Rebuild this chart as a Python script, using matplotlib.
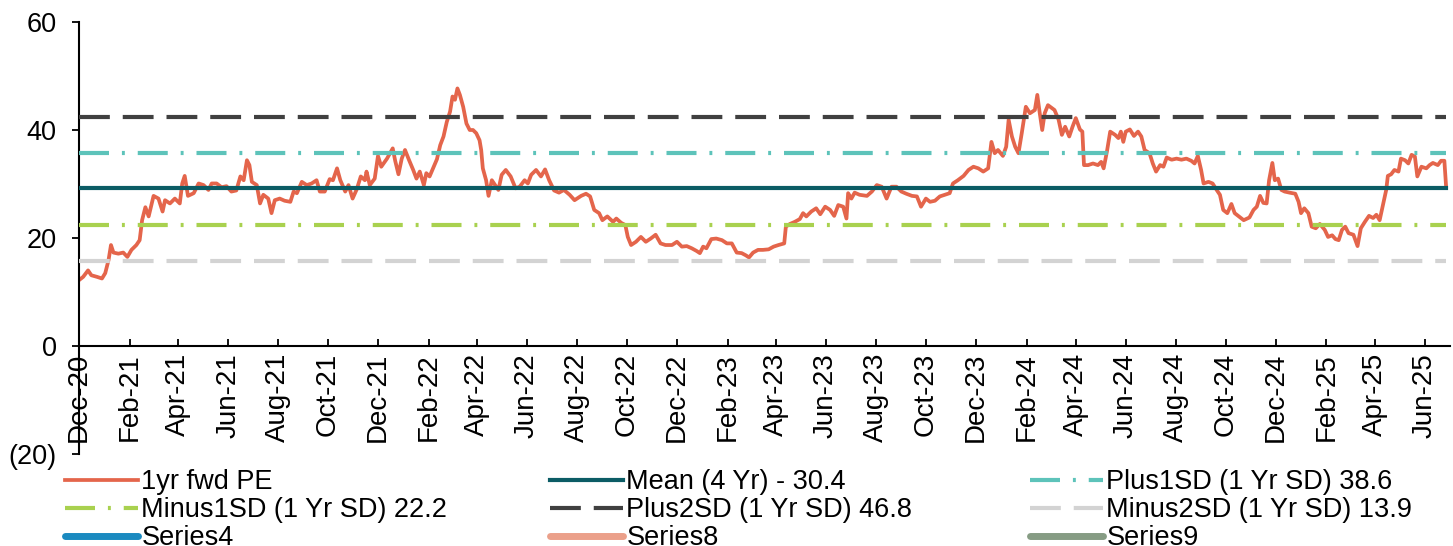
import matplotlib
matplotlib.use('Agg')
import matplotlib.pyplot as plt
import matplotlib.dates as mdates
from matplotlib.lines import Line2D
import pandas as pd

# 1yr forward PE (days counted from start_date)
start_date = '2020-12-03'
pe_days = [
    0, 5, 11, 15, 22, 28, 32, 36, 39, 42, 48, 54, 59, 64, 70, 74, 77, 81, 85, 91,
    97, 102, 105, 111, 117, 123, 126, 129, 133, 140, 146, 152, 158, 162, 168, 174, 180, 186, 192, 197,
    201, 205, 208, 211, 217, 221, 225, 231, 235, 239, 245, 251, 258, 262, 266, 272, 278, 284, 290, 294,
    300, 306, 310, 315, 319, 325, 329, 334, 339, 344, 349, 351, 355, 361, 365, 369, 376, 383, 386, 390,
    394, 398, 403, 408, 412, 416, 421, 424, 428, 433, 437, 441, 445, 449, 453, 456, 459, 462, 465, 469,
    473, 477, 481, 485, 489, 491, 493, 497, 500, 504, 508, 512, 516, 521, 527, 533, 538, 544, 548, 552,
    558, 564, 569, 574, 580, 586, 592, 599, 605, 613, 619, 624, 629, 635, 639, 645, 652, 656, 662, 667,
    670, 674, 680, 686, 692, 698, 704, 710, 716, 724, 730, 736, 742, 748, 754, 758, 762, 766, 772, 778,
    785, 791, 797, 803, 809, 814, 818, 823, 829, 835, 842, 848, 854, 861, 863, 868, 874, 880, 884, 888,
    894, 900, 905, 911, 917, 922, 927, 933, 937, 939, 943, 947, 953, 962, 968, 974, 980, 986, 992, 998,
    1004, 1010, 1017, 1023, 1028, 1034, 1039, 1045, 1051, 1057, 1063, 1067, 1073, 1080, 1086, 1092, 1098, 1104, 1110, 1114,
    1118, 1122, 1128, 1132, 1135, 1139, 1143, 1147, 1151, 1156, 1161, 1167, 1170, 1173, 1176, 1179, 1183, 1191, 1196, 1200,
    1204, 1209, 1213, 1217, 1222, 1225, 1227, 1232, 1238, 1244, 1248, 1251, 1255, 1259, 1265, 1269, 1272, 1275, 1278, 1283,
    1288, 1293, 1297, 1301, 1307, 1311, 1315, 1320, 1324, 1328, 1334, 1340, 1346, 1352, 1358, 1362, 1366, 1370, 1373, 1379,
    1384, 1389, 1393, 1397, 1402, 1407, 1411, 1416, 1422, 1429, 1434, 1438, 1442, 1446, 1450, 1453, 1457, 1460, 1464, 1468,
    1472, 1478, 1485, 1489, 1492, 1496, 1501, 1505, 1510, 1515, 1521, 1525, 1530, 1534, 1538, 1542, 1546, 1550, 1556, 1561,
    1565, 1570, 1575, 1580, 1584, 1588, 1592, 1596, 1598, 1602, 1606, 1611, 1614, 1619, 1623, 1627, 1631, 1634, 1639, 1645,
    1649, 1653, 1659, 1663, 1667, 1669,
]
pe_values = [
    12.2, 12.8, 14.0, 13.1, 12.8, 12.5, 13.5, 15.9, 18.7, 17.3, 17.1, 17.3, 16.5, 17.8, 18.7, 19.6, 23.3, 25.7, 24.0, 27.8,
    27.3, 24.9, 27.0, 26.4, 27.3, 26.4, 30.1, 31.5, 27.8, 28.3, 30.1, 29.8, 28.9, 30.1, 30.1, 29.4, 29.6, 28.6, 28.8, 31.4,
    30.7, 34.4, 33.5, 30.4, 29.8, 26.4, 28.0, 27.3, 24.6, 27.0, 27.3, 26.9, 26.7, 28.6, 28.3, 30.4, 29.8, 30.1, 30.7, 28.6,
    28.6, 30.9, 30.7, 32.9, 30.7, 28.6, 29.8, 27.3, 29.0, 31.4, 30.7, 32.3, 29.8, 31.0, 35.2, 33.2, 34.7, 36.6, 34.3, 31.8,
    34.7, 36.3, 34.4, 32.6, 31.0, 32.3, 29.8, 32.0, 31.4, 33.2, 34.6, 37.2, 38.8, 41.5, 43.4, 46.2, 45.6, 47.7, 46.5, 44.3,
    41.2, 40.0, 40.0, 39.4, 38.1, 36.3, 32.9, 30.7, 27.8, 30.7, 29.8, 28.9, 31.7, 32.6, 31.4, 29.2, 29.5, 30.7, 30.1, 31.7,
    32.6, 31.4, 32.7, 30.7, 28.8, 28.4, 28.9, 28.0, 27.0, 27.8, 28.2, 27.7, 25.2, 24.6, 23.3, 24.0, 23.0, 23.6, 22.8, 22.4,
    20.2, 18.7, 19.3, 20.2, 19.3, 19.9, 20.6, 19.0, 18.7, 18.7, 19.3, 18.4, 18.5, 18.1, 17.6, 17.2, 18.4, 18.1, 19.8, 19.9,
    19.6, 19.0, 19.0, 17.3, 17.2, 16.8, 16.4, 17.3, 17.8, 17.8, 17.9, 18.4, 18.7, 19.0, 22.1, 22.6, 23.0, 23.5, 24.6, 24.0,
    24.9, 25.5, 24.4, 25.8, 25.2, 24.1, 26.1, 25.8, 23.6, 28.3, 27.3, 28.4, 28.0, 27.8, 28.6, 29.8, 29.5, 27.3, 29.5, 29.5,
    28.6, 28.2, 27.8, 27.7, 25.8, 27.3, 26.7, 26.9, 27.7, 28.0, 28.3, 30.1, 30.7, 31.5, 32.6, 33.2, 32.9, 32.3, 32.9, 37.8,
    35.7, 36.3, 35.2, 36.9, 41.9, 38.8, 36.9, 35.7, 39.4, 44.3, 43.1, 43.7, 46.5, 43.1, 40.0, 43.1, 44.6, 43.7, 41.9, 39.1,
    40.6, 38.8, 40.6, 42.2, 40.1, 39.7, 33.5, 33.5, 33.8, 33.5, 34.1, 32.9, 36.0, 39.7, 39.1, 38.5, 39.7, 37.8, 39.7, 40.1,
    38.9, 39.7, 38.8, 36.3, 35.7, 33.8, 32.3, 33.5, 33.2, 34.9, 34.5, 34.7, 34.5, 34.7, 34.3, 33.8, 35.2, 32.6, 30.1, 30.4,
    30.1, 28.9, 28.0, 25.2, 24.6, 26.3, 24.6, 24.0, 23.3, 23.8, 25.2, 25.8, 27.8, 26.5, 26.4, 30.7, 33.9, 30.7, 31.0, 28.9,
    28.6, 28.4, 28.2, 26.7, 24.6, 25.5, 24.6, 22.1, 21.8, 22.6, 21.5, 20.2, 20.5, 19.8, 19.6, 21.5, 22.1, 20.9, 20.6, 18.5,
    21.8, 23.0, 24.1, 23.7, 24.3, 23.3, 26.1, 28.9, 31.5, 31.8, 32.6, 32.3, 34.7, 34.4, 33.8, 35.4, 35.1, 31.4, 33.2, 32.9,
    33.5, 33.9, 33.5, 34.3, 34.3, 29.8,
]

# horizontal bands (level as drawn on the chart)
band_labels = ['Mean (4 Yr) - 30.4', 'Plus1SD (1 Yr SD) 38.6', 'Minus1SD (1 Yr SD) 22.2',
               'Plus2SD (1 Yr SD) 46.8', 'Minus2SD (1 Yr SD) 13.9']
band_values = [29.2, 35.8, 22.5, 42.5, 15.8]
empty_labels = ['Series4', 'Series8', 'Series9']

band_styles = [
    ('#0b5c65', '-'),
    ('#5dc3ba', (0, (7.2, 3.1, 0.7, 3.1))),
    ('#a9d14f', (0, (7.2, 3.1, 0.7, 3.1))),
    ('#404040', (0, (7.4, 3.1))),
    ('#d3d3d3', (0, (7.4, 3.1))),
]
empty_colors = ['#1a8ac0', '#eba08a', '#869c84']

plt.rcParams['font.family'] = ['Liberation Sans', 'DejaVu Sans']
plt.rcParams['font.size'] = 19.5

dates = pd.to_datetime(start_date) + pd.to_timedelta(pe_days, unit='D')

fig = plt.figure(figsize=(14.53, 5.46), dpi=100)
ax = fig.add_axes([0.0544, 0.1685, 0.9436, 0.7912])

pe_line, = ax.plot(dates, pe_values, color='#e4654b', lw=2.7, label='1yr fwd PE', zorder=2)

band_lines = []
for label, value, (color, ls) in zip(band_labels, band_values, band_styles):
    line, = ax.plot([dates[0], dates[-1]], [value, value], color=color, ls=ls, lw=3,
                    label=label, zorder=3)
    band_lines.append(line)

empty_lines = [Line2D([], [], color=c, lw=5, solid_capstyle='round', label=l)
               for c, l in zip(empty_colors, empty_labels)]

ax.set_ylim(-20, 60)
ax.set_yticks([-20, 0, 20, 40, 60])
ax.set_yticklabels(['(20)', '0', '20', '40', '60'])
ax.set_xlim(dates[0], pd.to_datetime(start_date) + pd.Timedelta(days=1674))

ax.xaxis.set_major_locator(mdates.MonthLocator(bymonth=[2, 4, 6, 8, 10, 12], bymonthday=3))
ax.xaxis.set_major_formatter(mdates.DateFormatter('%b-%y'))

ax.spines['bottom'].set_position(('data', 0))
ax.spines['top'].set_visible(False)
ax.spines['right'].set_visible(False)
ax.spines['left'].set_linewidth(1.5)
ax.spines['bottom'].set_linewidth(1.5)
ax.tick_params(axis='x', direction='in', length=5, width=1.3, rotation=90, pad=5, labelsize=20)
ax.tick_params(axis='y', direction='out', length=5, width=1.3, pad=11, labelsize=19.5)

# legend: three columns placed by hand, rows read left to right
columns = [
    ([pe_line, band_lines[2], empty_lines[0]], 0.0447),
    ([band_lines[0], band_lines[3], empty_lines[1]], 0.3785),
    ([band_lines[1], band_lines[4], empty_lines[2]], 0.7089),
]
for handles, x in columns:
    fig.legend(handles=handles, loc='upper left', bbox_to_anchor=(x, 0.141),
               frameon=False, borderpad=0, borderaxespad=0, handlelength=2.7,
               handletextpad=0.12, labelspacing=0.08, fontsize=19.5)

fig.savefig('out.png', dpi=100)
